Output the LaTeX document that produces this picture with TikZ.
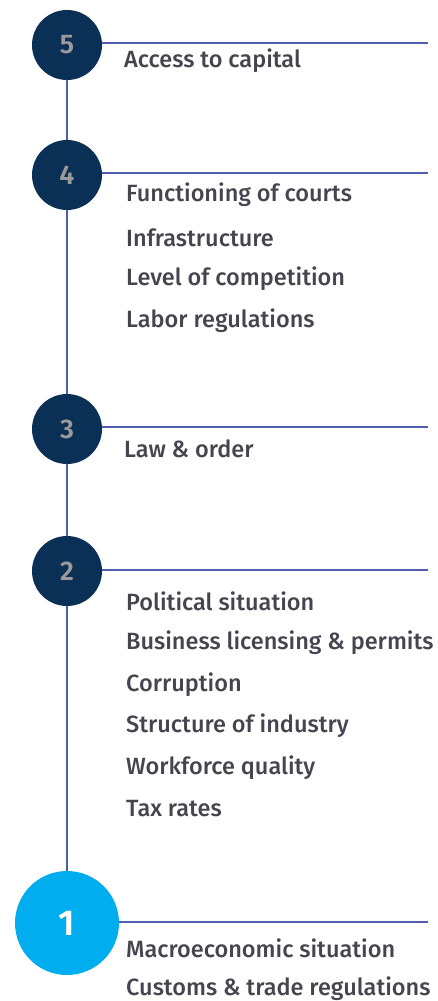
\documentclass[tikz,border=0pt]{standalone}
\usepackage{fontspec}
\setmainfont{Fira Sans}[UprightFont=* Medium, BoldFont=* SemiBold]
\definecolor{navy}{HTML}{0A3055}
\definecolor{skyblue}{HTML}{00AEEF}
\definecolor{rule}{HTML}{4F5FAE}
\definecolor{txt}{HTML}{45454F}
\definecolor{numgray}{HTML}{9A9A9A}
\tikzset{
  level/.style={circle, fill=navy, minimum size=70pt, inner sep=0pt, text=numgray, font=\fontsize{27}{27}\selectfont\bfseries},
  first/.style={circle, fill=skyblue, minimum size=104pt, inner sep=0pt, text=white, font=\fontsize{36}{36}\selectfont\bfseries},
  item/.style={anchor=west, text=txt, inner sep=0pt, font=\fontsize{23.5}{23.5}\selectfont},
  link/.style={draw=rule, line width=2pt}
}
\begin{document}
\begin{tikzpicture}[x=1pt,y=-1pt]
\useasboundingbox (0,0) rectangle (438,1001);

\node[level] (c5) at (67,45) {5};
\node[level] (c4) at (67,175) {4};
\node[level] (c3) at (67,429) {3};
\node[level] (c2) at (67,571) {2};
\node[first] (c1) at (67,923) {1};

\coordinate (r5) at (428,43);
\coordinate (r4) at (428,173);
\coordinate (r3) at (428,427);
\coordinate (r2) at (428,570);
\coordinate (r1) at (428,922);

\draw[link] (c5) -- (c4);
\draw[link] (c4) -- (c3);
\draw[link] (c3) -- (c2);
\draw[link] (c2) -- (c1);

\draw[link] (c5.east |- r5) -- (r5);
\draw[link] (c4.east |- r4) -- (r4);
\draw[link] (c3.east |- r3) -- (r3);
\draw[link] (c2.east |- r2) -- (r2);
\draw[link] (c1.east |- r1) -- (r1);

% level 5
\node[item] (capital) at (124,61) {Access to capital};
% level 4
\node[item] (courts) at (126,195) {Functioning of courts};
\node[item] (infra) at (126,238) {Infrastructure};
\node[item] (compet) at (126,279) {Level of competition};
\node[item] (labor) at (126,321) {Labor regulations};
% level 3
\node[item] (law) at (124,449) {Law \& order};
% level 2
\node[item] (polit) at (126,601) {Political situation};
\node[item] (licens) at (126,643) {Business licensing \& permits};
\node[item] (corrupt) at (126,685) {Corruption};
\node[item] (industry) at (126,726) {Structure of industry};
\node[item] (workforce) at (126,768) {Workforce quality};
\node[item] (tax) at (126,809) {Tax rates};
% level 1
\node[item] (macro) at (126,948) {Macroeconomic situation};
\node[item] (customs) at (126,989) {Customs \& trade regulations};
\end{tikzpicture}
\end{document}
